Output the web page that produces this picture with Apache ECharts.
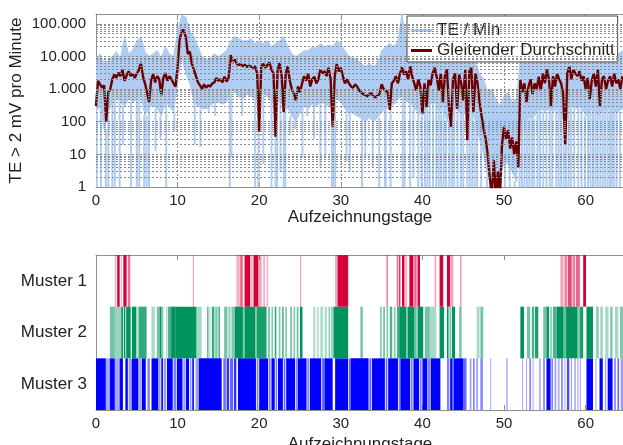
<!DOCTYPE html>
<html>
<head>
<meta charset="utf-8">
<script src="https://cdn.jsdelivr.net/npm/echarts@6/dist/echarts.min.js"></script>
<style>
  html, body { margin: 0; padding: 0; background: #fff; }
  #chart { width: 623px; height: 445px; }
</style>
</head>
<body>
<div id="chart"></div>
<script>
// ---- data -----------------------------------------------------------
// recording days on the x axis
const dayMax = 64.7;
const xTicks = [0, 10, 20, 30, 40, 50, 60];
const yTickLabels = ['1', '10', '100', '1.000', '10.000', '100.000'];

// moving average of beats per minute, sampled every 0.25 days
const maStep = 0.25;
const movingAvg = [
  300, 1800, 1400, 1100,   1300, 100, 800, 1000,   2000, 2800, 2200, 3200,
  2500, 3900, 1800, 2600,  3500, 2500, 3000, 2200,  3000, 3800, 6300, 2500,
  1500, 800, 400, 1800,    2900, 1600, 2500, 2000,  660, 2200, 3100, 1800,
  2500, 2000, 1500, 1200,  5000, 32000, 60000, 66000, 40000, 12000, 14000, 6000,
  3900, 2500, 1600, 1300,  1000, 1400, 1100, 1300,  1200, 1500, 1600, 2200,
  1800, 2000, 1600, 2400,  1700, 2200, 11000, 7000, 8000, 6000, 5500, 6000,
  5000, 5500, 4800, 5200,  4900, 4500, 5000, 3000,  50, 5000, 6000, 4500,
  5500, 6500, 4000, 3000,  35, 4000, 6300, 2500,    200, 3000, 5000, 1800,
  1000, 700, 450, 1200,    800, 1500, 2500, 1800,   3000, 1200, 2000, 2400,
  1500, 2000, 4000, 3000,  3500, 2500, 4500, 2000,  70, 2400, 6000, 3500,
  4500, 2500, 1500, 2000,  1500, 1200, 1100, 1400,  1200, 900, 800, 700,
  650, 600, 700, 750,      600, 550, 650, 700,      1400, 1000, 900, 800,
  230, 1500, 1800, 2500,   1500, 3000, 4600, 2800,  3500, 2000, 5000, 2400,
  1500, 900, 2000, 1200,   180, 1500, 280, 2000,    1300, 3000, 4500, 2400,
  900, 3000, 400, 2500,    4000, 300, 70, 2000,     3000, 250, 2800, 1500,
  450, 4000, 27, 3500,     4500, 200, 3000, 1500,   400, 150, 60, 30,
  10, 2, 0.5, 6.6,         0.5, 3, 0.5, 20,         70, 30, 55, 15,
  33, 10, 25, 4,           1900, 800, 1500, 400,    1200, 2000, 700, 1500,
  1000, 2400, 900, 3000,   1500, 4000, 2000, 300,   2500, 1200, 3000, 2000,
  1500, 700, 20, 3000,     5000, 2000, 4000, 3000,  2500, 3500, 1800, 2500,
  1000, 2200, 500, 1800,   3000, 1200, 4000, 300,   2000, 2500, 1000, 1800,
  2500, 1200, 3000, 1500,  2000, 1000, 2500
];

// raw beats per minute: upper and lower band every 0.5 days
const rawStep = 0.5;
const rawHigh = [
  9000, 12000, 6000, 8000, 10000, 14000, 9000, 40000, 12000, 16000,
  30000, 40000, 14000, 10000, 12000, 15000, 9000, 20000, 12000, 10000,
  60000, 180000, 160000, 60000, 40000, 20000, 10000, 8000, 9000, 12000,
  10000, 12000, 15000, 30000, 40000, 35000, 30000, 30000, 35000, 25000,
  30000, 25000, 30000, 20000, 25000, 30000, 40000, 20000, 12000, 10000,
  12000, 15000, 15000, 20000, 18000, 25000, 20000, 22000, 20000, 30000,
  25000, 15000, 10000, 9000, 8000, 6000, 5000, 6000, 5000, 6000,
  15000, 20000, 25000, 20000, 30000, 200000, 30000, 35000, 20000, 25000,
  20000, 20000, 15000, 25000, 20000, 15000, 20000, 12000, 15000, 20000,
  10000, 15000, 12000, 6000, 3000, 2000, 800, 1000, 500, 300,
  600, 800, 400, 500, 8000, 10000, 12000, 8000, 15000, 20000,
  15000, 20000, 15000, 20000, 12000, 20000, 25000, 20000, 15000, 20000,
  12000, 15000, 20000, 15000, 12000, 15000, 20000, 15000, 12000, 15000
];
const rawLow = [
  200, 300, 60, 200, 400, 500, 400, 300, 500, 400,
  500, 600, 150, 300, 300, 250, 150, 400, 300, 200,
  1500, 10000, 3000, 1500, 400, 300, 250, 250, 300, 400,
  400, 350, 400, 1200, 800, 600, 500, 700, 600, 500,
  600, 800, 600, 400, 500, 400, 300, 250, 150, 100,
  200, 300, 250, 350, 300, 400, 350, 300, 350, 500,
  400, 250, 200, 180, 150, 130, 100, 130, 100, 130,
  200, 250, 300, 350, 500, 600, 400, 450, 250, 200,
  150, 250, 350, 400, 200, 300, 100, 200, 250, 200,
  150, 300, 250, 100, 30, 10, 2, 1.5, 1.5, 2,
  6, 5, 3, 1.5, 150, 100, 150, 120, 200, 250,
  200, 250, 200, 300, 150, 100, 350, 300, 250, 300,
  150, 200, 250, 150, 200, 250, 250, 200, 200, 250
];
// short drops of the raw count: [day, beats per minute]
const rawDips = [
  [0.1, 1], [0.6, 1], [1.2, 1], [1.5, 1], [2.0, 1], [2.3, 1], [2.9, 1], [3.3, 20],
  [4.3, 1], [5.0, 1], [5.3, 1], [5.9, 1], [6.2, 1], [6.5, 1], [7.3, 13], [7.9, 30],
  [8.6, 1], [9.6, 50], [12.1, 20], [12.8, 17], [13.8, 200], [14.6, 150],
  [16.4, 1], [16.6, 8], [17.9, 150], [19.5, 1], [19.9, 1], [20.5, 5], [21.5, 1],
  [22.0, 1], [22.2, 1], [22.6, 3], [23.0, 1], [23.2, 1], [23.8, 40], [24.4, 60],
  [25.3, 8], [25.9, 150], [26.7, 30], [27.5, 4], [28.1, 8], [28.9, 1], [29.1, 1],
  [29.3, 1], [30.7, 6], [31.1, 3], [32.6, 1], [33.0, 8], [33.9, 4], [34.7, 1],
  [35.4, 1], [35.5, 1], [36.1, 1], [37.6, 1], [37.8, 1], [38.5, 1], [38.9, 2],
  [39.5, 1], [39.9, 1], [40.3, 1], [40.6, 1], [40.9, 1], [41.3, 1], [41.7, 1],
  [42.0, 1], [42.3, 1], [42.6, 1], [42.9, 1], [43.3, 1], [43.6, 1], [43.9, 1],
  [44.3, 1], [44.7, 1], [45.0, 1], [45.5, 1], [45.8, 1], [46.1, 1], [46.4, 1],
  [46.7, 1], [47.2, 1], [47.9, 1], [48.5, 1], [48.9, 1], [49.5, 1], [50.1, 1],
  [50.7, 1], [51.3, 1], [51.9, 1], [52.2, 1], [52.5, 1], [52.8, 1], [53.1, 1],
  [53.4, 1], [53.7, 1], [54.1, 1], [54.4, 1], [54.8, 1], [55.2, 1], [55.6, 1],
  [55.9, 1], [56.4, 1], [56.7, 1], [57.0, 1], [57.3, 1], [57.6, 1], [57.9, 1],
  [58.2, 1], [58.6, 1], [59.1, 1], [59.5, 1], [59.9, 1], [60.3, 1], [60.6, 1],
  [60.9, 1], [61.2, 1], [61.5, 1], [61.8, 1], [62.1, 1], [62.4, 1], [62.7, 1],
  [63.0, 1], [63.2, 1], [63.5, 1], [63.8, 1], [64.2, 1]
];

// pattern occurrences: [start day, end day, intensity]
const patternNames = ['Muster 3', 'Muster 2', 'Muster 1'];
const muster1 = [
  [2.3, 2.5, 0.3], [2.6, 2.9, 1], [3.05, 3.15, 0.3], [3.35, 3.75, 1], [3.9, 4.2, 0.55],
  [11.85, 12.0, 0.35],
  [17.2, 17.55, 0.3], [17.6, 18.0, 0.55], [18.2, 18.9, 1], [19.0, 19.2, 0.3], [19.3, 19.9, 1],
  [19.95, 20.3, 0.35], [20.5, 20.7, 0.35], [20.9, 21.1, 0.3],
  [25.0, 25.15, 0.35],
  [29.3, 29.6, 0.35], [29.6, 30.9, 1],
  [35.6, 35.75, 0.6], [36.85, 37.0, 0.6], [37.1, 37.3, 0.8], [37.5, 37.8, 1], [37.9, 38.1, 0.35],
  [38.4, 38.9, 1], [39.0, 39.3, 0.6], [39.4, 39.7, 1],
  [41.5, 41.7, 0.35], [42.1, 42.55, 1], [43.0, 43.4, 1], [43.45, 43.8, 0.35], [44.6, 44.8, 0.35],
  [56.9, 57.3, 0.35], [57.4, 57.7, 0.5], [57.8, 58.3, 0.7], [58.4, 58.7, 0.5], [58.8, 59.3, 0.6],
  [59.7, 60.05, 1]
];
const muster2 = [
  [1.7, 2.3, 0.55], [2.3, 3.1, 0.4], [3.1, 3.3, 1], [3.4, 3.6, 1], [3.7, 4.25, 1], [4.4, 4.9, 1],
  [4.9, 5.1, 0.4], [5.2, 6.2, 0.8], [6.8, 7.2, 0.35], [7.45, 7.8, 0.55], [7.8, 8.0, 1],
  [8.0, 8.25, 0.5], [8.6, 8.7, 0.35], [8.8, 9.2, 0.7], [9.2, 9.7, 1], [9.7, 12.3, 1],
  [12.3, 12.95, 0.35], [13.6, 13.8, 0.6], [13.9, 14.0, 0.4], [14.2, 14.5, 0.8], [14.6, 14.9, 0.5],
  [15.0, 15.2, 0.7], [15.7, 16.1, 0.55], [16.2, 16.5, 0.4], [16.6, 17.0, 0.5], [17.0, 18.0, 1],
  [18.0, 18.2, 0.5], [18.2, 19.5, 1], [19.5, 19.7, 0.5], [19.7, 20.9, 0.9], [21.1, 21.3, 0.6],
  [21.5, 21.7, 0.5], [21.9, 22.1, 0.8], [22.4, 22.6, 0.5], [22.8, 23.0, 0.7], [23.2, 23.4, 0.5],
  [23.8, 24.0, 0.6], [24.2, 24.4, 0.5], [24.6, 24.8, 0.6], [25.0, 25.3, 1],
  [26.6, 26.9, 0.3], [27.1, 27.3, 0.3], [27.5, 27.8, 0.35], [28.0, 28.3, 0.3], [28.5, 28.7, 0.5],
  [28.8, 29.1, 0.4], [29.1, 30.9, 1], [32.4, 32.7, 0.55],
  [34.8, 35.0, 0.5], [35.2, 35.4, 0.6], [35.6, 35.8, 0.5], [36.0, 36.3, 0.7], [36.5, 36.7, 0.5],
  [36.9, 37.25, 0.8], [37.25, 38.0, 1], [38.0, 38.2, 0.5], [38.2, 39.0, 1], [39.0, 39.3, 0.6],
  [39.4, 40.1, 1], [40.3, 40.9, 0.55], [40.9, 41.7, 0.35], [42.1, 42.65, 1], [43.0, 43.2, 1],
  [43.3, 43.5, 0.5], [43.6, 44.0, 1], [44.5, 44.8, 0.55], [46.65, 47.0, 0.35], [47.1, 47.45, 0.55],
  [52.0, 52.45, 1], [52.8, 53.2, 0.55], [53.4, 53.7, 0.7], [53.8, 54.2, 0.9], [54.8, 55.2, 0.55],
  [55.2, 55.5, 1], [55.6, 55.9, 0.4], [56.0, 56.45, 0.7], [56.45, 57.3, 1], [57.3, 57.6, 0.6],
  [57.6, 59.0, 1], [59.0, 59.3, 0.5], [59.3, 59.7, 0.9], [60.1, 60.9, 1], [61.3, 61.6, 0.5],
  [61.8, 62.1, 0.4], [62.4, 62.8, 0.35], [63.0, 63.3, 0.5], [63.6, 64.0, 0.35], [64.2, 64.6, 0.5]
];
const muster3 = [
  [0, 1.2, 1], [1.2, 1.7, 0.35], [1.7, 2.3, 1], [2.3, 2.9, 0.35], [2.9, 3.3, 1], [3.6, 3.9, 1],
  [4.0, 4.4, 0.4], [4.4, 5.2, 1], [5.3, 5.5, 0.4], [5.6, 6.1, 1], [6.3, 6.6, 0.5], [6.8, 7.6, 1],
  [7.6, 7.9, 0.4], [8.0, 8.2, 1], [8.3, 8.6, 0.4], [8.7, 9.4, 1], [9.5, 9.8, 0.5], [9.9, 10.6, 1],
  [10.7, 10.9, 0.4], [11.0, 11.4, 1], [11.5, 11.7, 0.4], [11.8, 12.0, 1], [12.2, 12.6, 0.4],
  [12.6, 15.4, 1], [15.6, 15.9, 0.6], [16.0, 16.3, 0.8], [16.4, 16.8, 0.6], [16.9, 17.2, 0.8],
  [17.4, 19.6, 1], [19.7, 19.9, 0.5], [20.0, 21.1, 1], [21.2, 21.4, 0.5], [21.5, 21.9, 1],
  [22.0, 22.2, 0.5], [22.3, 22.9, 1], [23.0, 23.2, 0.6], [23.3, 24.4, 1], [24.5, 24.6, 0.5],
  [24.7, 25.8, 1], [25.9, 26.1, 0.5], [26.2, 27.6, 1], [27.7, 28.0, 0.6], [28.0, 29.0, 1],
  [29.3, 30.9, 1], [31.0, 31.2, 0.6], [31.2, 33.4, 1], [33.5, 33.7, 0.6], [33.8, 35.4, 1],
  [35.5, 35.7, 0.6], [35.8, 37.0, 1], [37.1, 37.3, 0.5], [37.3, 38.5, 1], [38.6, 38.8, 0.5],
  [38.9, 39.6, 1], [39.7, 39.9, 0.5], [40.0, 40.6, 1], [40.7, 40.9, 0.6], [41.0, 42.2, 1],
  [43.0, 43.3, 0.5], [43.4, 43.7, 1], [43.8, 45.0, 1], [45.0, 45.4, 0.6], [45.8, 46.0, 0.4],
  [46.2, 46.4, 0.5], [46.6, 46.8, 0.4], [47.1, 47.4, 0.5], [48.3, 48.4, 0.35], [50.3, 50.4, 0.5],
  [52.2, 52.3, 0.35], [52.7, 52.8, 0.35], [53.1, 53.3, 0.5], [53.5, 53.6, 0.35], [54.3, 54.5, 0.35],
  [54.8, 55.0, 0.5], [55.2, 55.7, 1], [55.8, 56.0, 0.5], [56.2, 56.4, 0.4], [56.6, 56.8, 0.35],
  [57.0, 57.2, 0.5], [57.4, 57.5, 0.35], [57.7, 58.0, 0.7], [58.2, 58.3, 0.4], [58.6, 58.8, 0.35],
  [59.0, 59.1, 0.4], [59.3, 59.4, 0.35], [60.1, 60.9, 1], [61.2, 61.3, 0.4], [61.7, 62.1, 1],
  [62.4, 62.5, 0.5], [62.7, 63.3, 1], [63.5, 63.7, 0.5], [63.9, 64.1, 0.6], [64.3, 64.6, 0.4]
];

// ---- series building ---------------------------------------------------
const maPoints = movingAvg.map((v, i) => [i * maStep, v]);

// band segments between consecutive samples: [t0, low0, high0, t1, low1, high1]
const bandSegments = [];
for (let i = 0; i < rawHigh.length - 1; i++) {
  bandSegments.push([i * rawStep, rawLow[i], rawHigh[i],
                     (i + 1) * rawStep, rawLow[i + 1], rawHigh[i + 1]]);
}
// each drop reaches down from the lower band edge of its sample
const dipSegments = rawDips.map(d => {
  const k = Math.min(rawLow.length - 1, Math.round(d[0] / rawStep));
  return [d[0], d[1], rawLow[k]];
});

// dotted log grid at 1..9 of every decade
const logGrid = [];
for (let e = 0; e <= 5; e++) {
  for (let m = 1; m <= 9; m++) {
    const v = m * Math.pow(10, e);
    if (v > 1 && v < 200000) logGrid.push({ yAxis: v });
  }
}

const FONT = 'Liberation Sans, Arial, Helvetica, sans-serif';
const TXT = '#222';
const BOX = '#8f8f8f';
const GRIDC = '#8c8c8c';
const RAW = '#afcdf2';
const MA = '#6b0000';

const patternColors = ['#0000ff', '#00935e', '#d4003a'];
function patternSeries(rows, rowIndex) {
  return {
    type: 'custom',
    xAxisIndex: 2,
    yAxisIndex: 1,
    clip: true,
    silent: true,
    encode: { x: [0, 1], y: 2 },
    data: rows.map(r => [r[0], r[1], rowIndex, r[2]]),
    renderItem(params, api) {
      const a = api.coord([api.value(0), api.value(2)]);
      const b = api.coord([api.value(1), api.value(2)]);
      const h = api.size([0, 1])[1];
      return {
        type: 'rect',
        shape: { x: a[0], y: a[1] - h / 2, width: Math.max(b[0] - a[0], 1), height: h },
        style: { fill: patternColors[rowIndex], opacity: api.value(3) }
      };
    }
  };
}

function dayLabel(v) {
  return xTicks.indexOf(Math.round(v * 1000) / 1000) >= 0 ? String(Math.round(v)) : '';
}
function logLabel(v) {
  const e = Math.log10(v);
  const k = Math.round(e);
  if (Math.abs(e - k) > 1e-6 || k < 0 || k >= yTickLabels.length) return '';
  return yTickLabels[k];
}

const xCommon = {
  type: 'value', min: 0, max: dayMax, interval: 10,
  axisLine: { show: true, onZero: false, lineStyle: { color: BOX, width: 1 } },
  axisTick: { show: true, inside: true, length: 5, lineStyle: { color: BOX } }
};

const lineIcon = 'path://M0,0 L21,0 L21,3 L0,3 Z';

const chart = echarts.init(document.getElementById('chart'), null, { renderer: 'canvas' });
chart.setOption({
  animation: false,
  backgroundColor: '#fff',
  textStyle: { fontFamily: FONT },
  grid: [
    { left: 96, top: 14, width: 528, height: 173, containLabel: false, outerBoundsMode: 'none' },
    { left: 96, top: 255, width: 528, height: 155, containLabel: false, outerBoundsMode: 'none' }
  ],
  legend: {
    data: [
      { name: 'TE / Min', icon: lineIcon, itemStyle: { color: RAW } },
      { name: 'Gleitender Durchschnitt', icon: lineIcon, itemStyle: { color: MA } }
    ],
    orient: 'vertical',
    left: 407, top: 16,
    itemWidth: 21, itemHeight: 3, itemGap: 3,
    padding: [6, 3, 3, 4],
    backgroundColor: '#fff',
    borderColor: '#444', borderWidth: 1,
    textStyle: { fontFamily: FONT, fontSize: 17, color: TXT, lineHeight: 17 },
    selectedMode: false
  },
  xAxis: [
    Object.assign({}, xCommon, {
      gridIndex: 0, position: 'bottom',
      axisLabel: { fontSize: 15, color: TXT, margin: 6, formatter: dayLabel },
      splitLine: { show: true, lineStyle: { color: GRIDC, type: [2, 2], width: 1 } },
      name: 'Aufzeichnungstage', nameLocation: 'middle', nameGap: 20,
      nameTextStyle: { fontSize: 17, color: TXT, fontFamily: FONT }
    }),
    Object.assign({}, xCommon, {
      gridIndex: 0, position: 'top',
      axisLabel: { show: false }, splitLine: { show: false }
    }),
    Object.assign({}, xCommon, {
      gridIndex: 1, position: 'bottom',
      axisLabel: { fontSize: 15, color: TXT, margin: 6, formatter: dayLabel },
      splitLine: { show: false },
      name: 'Aufzeichnungstage', nameLocation: 'middle', nameGap: 26,
      nameTextStyle: { fontSize: 17, color: TXT, fontFamily: FONT }
    }),
    Object.assign({}, xCommon, {
      gridIndex: 1, position: 'top',
      axisLabel: { show: false }, splitLine: { show: false }
    })
  ],
  yAxis: [
    {
      gridIndex: 0, type: 'log', logBase: 10, min: 1, max: 200000,
      axisLine: { show: true, lineStyle: { color: BOX } },
      axisTick: { show: true, inside: true, length: 5, lineStyle: { color: BOX } },
      axisLabel: { fontSize: 15, color: TXT, margin: 10, formatter: logLabel },
      splitLine: { show: false },
      name: 'TE > 2 mV pro Minute', nameLocation: 'middle', nameGap: 71,
      nameMoveOverlap: false,
      nameTextStyle: { fontSize: 17, color: TXT, fontFamily: FONT }
    },
    {
      gridIndex: 1, type: 'category', data: patternNames,
      axisLine: { show: true, lineStyle: { color: BOX } },
      axisTick: { show: false },
      axisLabel: { fontSize: 17, color: TXT, margin: 9 },
      splitLine: { show: false }
    }
  ],
  series: [
    {
      name: 'grid', type: 'line', xAxisIndex: 0, yAxisIndex: 0, z: 1,
      data: [[0, 1]], symbol: 'none', silent: true,
      lineStyle: { opacity: 0 },
      markLine: {
        silent: true, symbol: 'none', animation: false,
        label: { show: false },
        lineStyle: { color: GRIDC, type: [2, 2], width: 1 },
        data: logGrid
      }
    },
    {
      name: 'TE / Min', type: 'custom', xAxisIndex: 0, yAxisIndex: 0, z: 2,
      clip: true, silent: true, color: RAW,
      encode: { x: [0, 3], y: [1, 2, 4, 5] },
      data: bandSegments,
      renderItem(params, api) {
        const p0h = api.coord([api.value(0), api.value(2)]);
        const p1h = api.coord([api.value(3), api.value(5)]);
        const p1l = api.coord([api.value(3), api.value(4)]);
        const p0l = api.coord([api.value(0), api.value(1)]);
        return {
          type: 'polygon',
          shape: { points: [p0h, p1h, p1l, p0l] },
          style: { fill: RAW, stroke: RAW, lineWidth: 1 }
        };
      }
    },
    {
      name: 'TE / Min', type: 'custom', xAxisIndex: 0, yAxisIndex: 0, z: 2,
      clip: true, silent: true, color: RAW,
      encode: { x: 0, y: [1, 2] },
      data: dipSegments,
      renderItem(params, api) {
        const lo = api.coord([api.value(0), api.value(1)]);
        const hi = api.coord([api.value(0), api.value(2)]);
        return {
          type: 'line',
          shape: { x1: lo[0], y1: lo[1], x2: hi[0], y2: hi[1] },
          style: { stroke: RAW, lineWidth: 2 }
        };
      }
    },
    {
      name: 'Gleitender Durchschnitt', type: 'line', xAxisIndex: 0, yAxisIndex: 0, z: 3,
      data: maPoints, symbol: 'none', showSymbol: false,
      color: MA,
      lineStyle: { color: MA, width: 2.4 }
    },
    patternSeries(muster3, 0),
    patternSeries(muster2, 1),
    patternSeries(muster1, 2)
  ]
});
</script>
</body>
</html>
